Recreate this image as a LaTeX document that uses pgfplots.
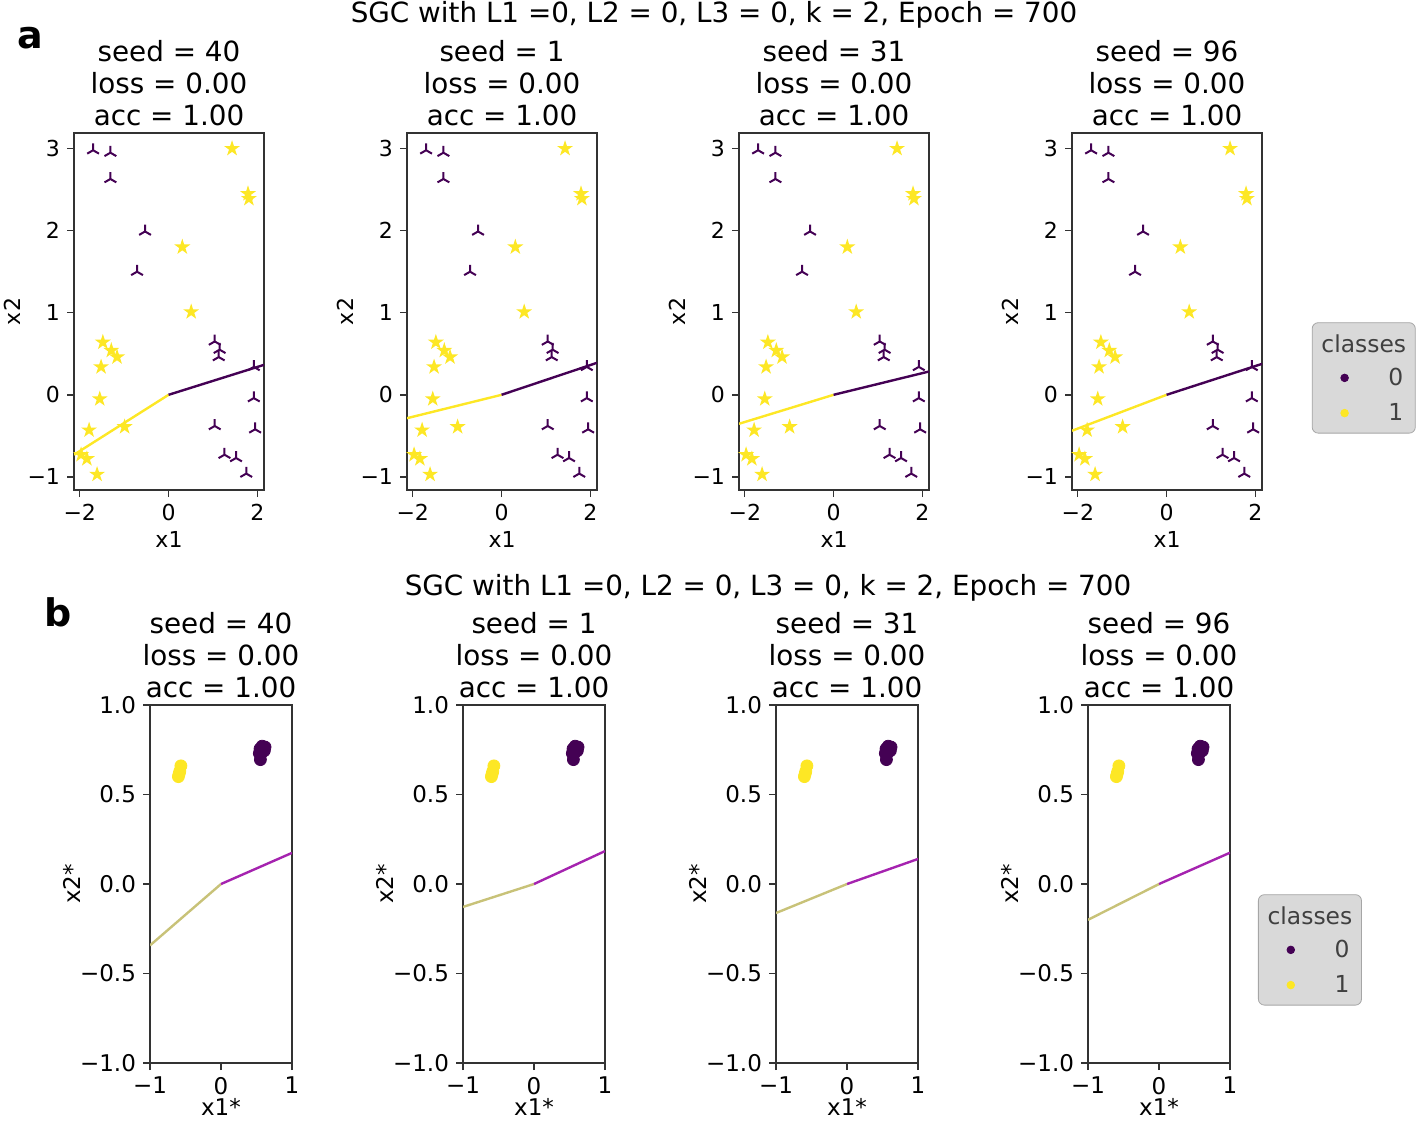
\documentclass[border=0pt]{standalone}
\usepackage{fontspec}
\setmainfont{DejaVu Sans}
\usepackage{pgfplots}
\pgfplotsset{compat=1.18}
\usepackage{pgfplotstable}

\definecolor{vpurple}{RGB}{68,1,84}
\definecolor{vyellow}{RGB}{253,231,37}
\definecolor{lineolive}{RGB}{200,194,120}
\definecolor{linemag}{RGB}{165,35,175}

\newcommand\fs{\fontsize{13.9pt}{16pt}\selectfont}
\newcommand\fa{\fontsize{11pt}{12.5pt}\selectfont}
\newcommand\fb{\fontsize{11.5pt}{13pt}\selectfont}
\newcommand\fl{\fontsize{11.7pt}{13.5pt}\selectfont}

% filled five point star (matplotlib '*') and tri_up (matplotlib '2')
\pgfdeclareplotmark{fstar}{%
  \pgfpathmoveto{\pgfpointpolar{90}{\pgfplotmarksize}}%
  \pgfpathlineto{\pgfpointpolar{126}{0.382\pgfplotmarksize}}%
  \pgfpathlineto{\pgfpointpolar{162}{\pgfplotmarksize}}%
  \pgfpathlineto{\pgfpointpolar{198}{0.382\pgfplotmarksize}}%
  \pgfpathlineto{\pgfpointpolar{234}{\pgfplotmarksize}}%
  \pgfpathlineto{\pgfpointpolar{270}{0.382\pgfplotmarksize}}%
  \pgfpathlineto{\pgfpointpolar{306}{\pgfplotmarksize}}%
  \pgfpathlineto{\pgfpointpolar{342}{0.382\pgfplotmarksize}}%
  \pgfpathlineto{\pgfpointpolar{18}{\pgfplotmarksize}}%
  \pgfpathlineto{\pgfpointpolar{54}{0.382\pgfplotmarksize}}%
  \pgfpathclose\pgfusepathqfill}
\pgfdeclareplotmark{triup}{%
  \pgfpathmoveto{\pgfpointorigin}\pgfpathlineto{\pgfpointpolar{90}{\pgfplotmarksize}}%
  \pgfpathmoveto{\pgfpointorigin}\pgfpathlineto{\pgfpointpolar{210}{\pgfplotmarksize}}%
  \pgfpathmoveto{\pgfpointorigin}\pgfpathlineto{\pgfpointpolar{330}{\pgfplotmarksize}}%
  \pgfusepathqstroke}

% input space, class 0 and class 1
\pgfplotstableread{
x y
-1.70 2.98
-1.31 2.95
-1.31 2.63
-0.53 1.99
-0.71 1.50
1.04 0.65
1.15 0.55
1.13 0.46
1.92 0.34
1.92 -0.04
1.04 -0.38
1.95 -0.42
1.26 -0.73
1.52 -0.77
1.75 -0.96
}\inzero
\pgfplotstableread{
x y
1.43 3.00
1.79 2.45
1.81 2.39
0.31 1.80
0.51 1.01
-1.48 0.64
-1.29 0.54
-1.16 0.46
-1.52 0.34
-1.55 -0.05
-0.99 -0.39
-1.79 -0.43
-1.97 -0.73
-1.84 -0.78
-1.61 -0.97
}\inone
% embedded space
\pgfplotstableread{
x y
0.55 0.755
0.62 0.765
0.58 0.77
0.54 0.73
0.575 0.735
0.555 0.695
0.61 0.745
}\embzero
\pgfplotstableread{
x y
-0.565 0.66
-0.58 0.63
-0.60 0.60
-0.59 0.615
}\embone

\pgfplotsset{
  sgc/.style={
    scale only axis, anchor=north west,
    axis line style={black!80, line width=0.8pt},
    tick style={black!80, line width=0.7pt},
    tick align=outside, major tick length=3.5pt, tick pos=left,
    title style={font=\fs, align=center, at={(0.5,1)}, anchor=south, yshift=-6pt},
  },
  panela/.style={sgc, width=95pt, height=178.5pt,
    xmin=-2.13, xmax=2.15, ymin=-1.16, ymax=3.19,
    xtick={-2,0,2}, xticklabels={−2,0,2},
    ytick={-1,0,1,2,3}, yticklabels={−1,0,1,2,3},
    ticklabel style={font=\fa}, label style={font=\fa},
    xlabel style={yshift=1.5pt}, ylabel style={yshift=-3.5pt},
    xlabel={x1}, ylabel={x2}},
  panelb/.style={sgc, width=71pt, height=179pt,
    xmin=-1, xmax=1, ymin=-1, ymax=1,
    xtick={-1,0,1}, xticklabels={−1,0,1},
    ytick={-1,-0.5,0,0.5,1}, yticklabels={−1.0,−0.5,0.0,0.5,1.0},
    ticklabel style={font=\fb}, label style={font=\fb},
    xlabel style={yshift=5pt}, ylabel style={yshift=-7pt},
    xlabel={x1*}, ylabel={x2*}},
  ptsa/.style={forget plot, only marks},
  classleg/.style={
    legend style={fill=black!15, draw=black!35, rounded corners=3pt,
      font=\fl, text=black!75, row sep=3.5pt, inner xsep=5pt, inner ysep=3pt,
      nodes={inner xsep=1pt},
      /tikz/every odd column/.style={column sep=19pt},
      label={[anchor=north, yshift=-2.5pt, font=\fl, text=black!75]north:classes}},
    legend cell align=right,
    legend image code/.code={\path (0pt,0pt); \draw[##1] plot coordinates {(11pt,0pt)};}},
}

\begin{document}
\begin{tikzpicture}
\node[font=\fs] at (357pt,-7.5pt) {SGC with L1 =0, L2 = 0, L3 = 0, k = 2, Epoch = 700};
\node[font=\fontsize{19pt}{22pt}\selectfont\bfseries] at (15pt,-19pt) {a};
\node[font=\fs] at (384pt,-294pt) {SGC with L1 =0, L2 = 0, L3 = 0, k = 2, Epoch = 700};
\node[font=\fontsize{19pt}{22pt}\selectfont\bfseries] at (29pt,-306pt) {b};

% ---- row a ----
\begin{axis}[panela, at={(37pt,-66.5pt)}, title={seed = 40\\loss = 0.00\\acc = 1.00}]
  \addplot[forget plot, vyellow, line width=1.2pt] coordinates {(-2.13,-0.73) (0,0)};
  \addplot[forget plot, vpurple, line width=1.2pt] coordinates {(0,0) (2.15,0.365)};
  \addplot[ptsa, mark=triup, mark size=3.4pt, vpurple, line width=1pt] table {\inzero};
  \addplot[ptsa, mark=fstar, mark size=4.2pt, vyellow] table {\inone};
\end{axis}
\begin{axis}[panela, at={(203.5pt,-66.5pt)}, title={seed = 1\\loss = 0.00\\acc = 1.00}]
  \addplot[forget plot, vyellow, line width=1.2pt] coordinates {(-2.13,-0.285) (0,0)};
  \addplot[forget plot, vpurple, line width=1.2pt] coordinates {(0,0) (2.15,0.39)};
  \addplot[ptsa, mark=triup, mark size=3.4pt, vpurple, line width=1pt] table {\inzero};
  \addplot[ptsa, mark=fstar, mark size=4.2pt, vyellow] table {\inone};
\end{axis}
\begin{axis}[panela, at={(369.5pt,-66.5pt)}, title={seed = 31\\loss = 0.00\\acc = 1.00}]
  \addplot[forget plot, vyellow, line width=1.2pt] coordinates {(-2.13,-0.353) (0,0)};
  \addplot[forget plot, vpurple, line width=1.2pt] coordinates {(0,0) (2.15,0.284)};
  \addplot[ptsa, mark=triup, mark size=3.4pt, vpurple, line width=1pt] table {\inzero};
  \addplot[ptsa, mark=fstar, mark size=4.2pt, vyellow] table {\inone};
\end{axis}
\begin{axis}[panela, at={(536pt,-66.5pt)}, title={seed = 96\\loss = 0.00\\acc = 1.00},
  classleg, legend style={at={(1.262,0.314)}, anchor=west}]
  \addplot[forget plot, vyellow, line width=1.2pt] coordinates {(-2.13,-0.438) (0,0)};
  \addplot[forget plot, vpurple, line width=1.2pt] coordinates {(0,0) (2.15,0.377)};
  \addplot[ptsa, mark=triup, mark size=3.4pt, vpurple, line width=1pt] table {\inzero};
  \addplot[ptsa, mark=fstar, mark size=4.2pt, vyellow] table {\inone};
  \addlegendimage{empty legend}\addlegendentry{\rule{0pt}{8.5pt}}
  \addlegendimage{only marks, mark=*, mark size=1.9pt, vpurple}\addlegendentry{0}
  \addlegendimage{only marks, mark=*, mark size=1.9pt, vyellow}\addlegendentry{1}
\end{axis}

% ---- row b ----
\begin{axis}[panelb, at={(75pt,-352.5pt)}, title={seed = 40\\loss = 0.00\\acc = 1.00}]
  \addplot[forget plot, lineolive, line width=1.2pt] coordinates {(-1,-0.343) (0,0)};
  \addplot[forget plot, linemag, line width=1.2pt] coordinates {(0,0) (1,0.174)};
  \addplot[ptsa, mark=*, mark size=3pt, vpurple] table {\embzero};
  \addplot[ptsa, mark=*, mark size=3pt, vyellow] table {\embone};
\end{axis}
\begin{axis}[panelb, at={(231.5pt,-352.5pt)}, title={seed = 1\\loss = 0.00\\acc = 1.00}]
  \addplot[forget plot, lineolive, line width=1.2pt] coordinates {(-1,-0.128) (0,0)};
  \addplot[forget plot, linemag, line width=1.2pt] coordinates {(0,0) (1,0.184)};
  \addplot[ptsa, mark=*, mark size=3pt, vpurple] table {\embzero};
  \addplot[ptsa, mark=*, mark size=3pt, vyellow] table {\embone};
\end{axis}
\begin{axis}[panelb, at={(388pt,-352.5pt)}, title={seed = 31\\loss = 0.00\\acc = 1.00}]
  \addplot[forget plot, lineolive, line width=1.2pt] coordinates {(-1,-0.162) (0,0)};
  \addplot[forget plot, linemag, line width=1.2pt] coordinates {(0,0) (1,0.14)};
  \addplot[ptsa, mark=*, mark size=3pt, vpurple] table {\embzero};
  \addplot[ptsa, mark=*, mark size=3pt, vyellow] table {\embone};
\end{axis}
\begin{axis}[panelb, at={(544pt,-352.5pt)}, title={seed = 96\\loss = 0.00\\acc = 1.00},
  classleg, legend style={at={(1.197,0.316)}, anchor=west}]
  \addplot[forget plot, lineolive, line width=1.2pt] coordinates {(-1,-0.20) (0,0)};
  \addplot[forget plot, linemag, line width=1.2pt] coordinates {(0,0) (1,0.175)};
  \addplot[ptsa, mark=*, mark size=3pt, vpurple] table {\embzero};
  \addplot[ptsa, mark=*, mark size=3pt, vyellow] table {\embone};
  \addlegendimage{empty legend}\addlegendentry{\rule{0pt}{8.5pt}}
  \addlegendimage{only marks, mark=*, mark size=1.9pt, vpurple}\addlegendentry{0}
  \addlegendimage{only marks, mark=*, mark size=1.9pt, vyellow}\addlegendentry{1}
\end{axis}

\pgfresetboundingbox
\path[use as bounding box] (0pt,0pt) rectangle (708pt,-560.5pt);
\end{tikzpicture}
\end{document}
